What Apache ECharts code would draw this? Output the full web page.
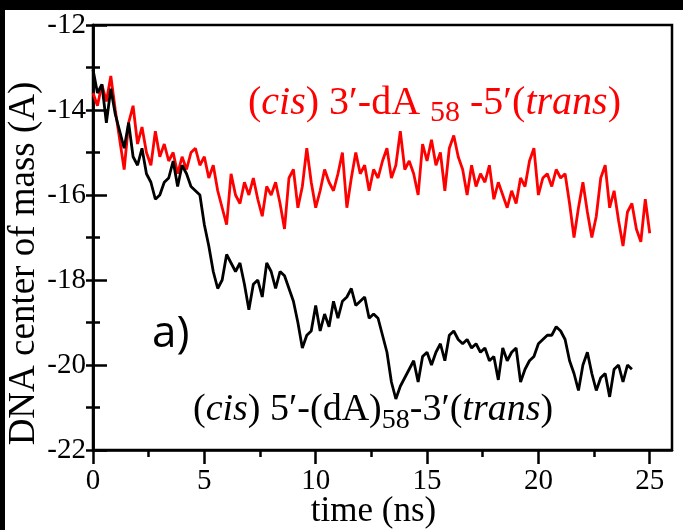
<!DOCTYPE html>
<html>
<head>
<meta charset="utf-8">
<script src="https://cdn.jsdelivr.net/npm/echarts@6/dist/echarts.min.js"></script>
<style>
html,body{margin:0;padding:0;background:#fff;}
#chart{width:683px;height:530px;}
</style>
</head>
<body>
<div id="chart"></div>
<script>
// ---- data ----
const xTicks = [0, 5, 10, 15, 20, 25];
const xMinorTicks = [2.5, 7.5, 12.5, 17.5, 22.5];
const yTicks = [-22, -20, -18, -16, -14, -12];

// (cis) 3'-dA58-5'(trans)  -- red
const redTime = [0,0.2,0.4,0.6,0.8,1.0,1.2,1.4,1.6,1.8,2.0,2.2,2.4,2.6,2.8,3.0,3.2,3.4,3.6,3.8,
  4.0,4.2,4.4,4.6,4.8,5.0,5.2,5.4,5.6,5.8,6.0,6.2,6.4,6.6,6.8,7.0,7.2,7.4,7.6,7.8,
  8.0,8.2,8.4,8.6,8.8,9.0,9.2,9.4,9.6,9.8,10.0,10.2,10.4,10.6,10.8,11.0,11.2,11.4,11.6,11.8,
  12.0,12.2,12.4,12.6,12.8,13.0,13.2,13.4,13.6,13.8,14.0,14.2,14.4,14.6,14.8,15.0,15.2,15.4,15.6,15.8,
  16.0,16.2,16.4,16.6,16.8,17.0,17.2,17.4,17.6,17.8,18.0,18.2,18.4,18.6,18.8,19.0,19.2,19.4,19.6,19.8,
  20.0,20.2,20.4,20.6,20.8,21.0,21.2,21.4,21.6,21.8,22.0,22.2,22.4,22.6,22.8,23.0,23.2,23.4,23.6,23.8,
  24.0,24.2,24.4,24.6,24.8,25.0];
const redValues = [-13.6,-13.9,-13.4,-13.8,-13.2,-14.0,-14.7,-15.4,-14.3,-13.9,-14.8,-14.4,-15.0,-15.3,-14.5,-15.1,-14.8,-15.2,-15.0,-15.5,
  -15.1,-15.4,-15.0,-14.9,-15.3,-15.1,-15.6,-15.3,-15.9,-16.3,-16.7,-15.5,-16.0,-16.2,-15.7,-16.0,-15.6,-16.1,-16.5,-15.8,
  -16.0,-15.7,-16.2,-16.8,-15.6,-15.4,-16.3,-15.8,-14.9,-15.7,-16.3,-15.9,-15.4,-15.7,-15.9,-15.5,-15.0,-16.3,-15.6,-15.0,
  -15.5,-15.3,-15.9,-15.4,-15.6,-15.2,-14.9,-15.6,-15.3,-14.5,-15.4,-15.2,-15.5,-16.0,-14.8,-15.2,-14.7,-15.3,-15.0,-15.9,
  -14.9,-14.6,-15.1,-15.4,-16.0,-15.3,-15.8,-15.5,-15.7,-15.3,-16.1,-15.7,-16.0,-16.3,-15.9,-16.2,-15.6,-15.8,-15.2,-14.9,
  -16.0,-15.6,-15.5,-15.8,-15.4,-15.6,-15.5,-16.2,-17.0,-16.3,-15.7,-16.4,-17.0,-16.5,-15.6,-15.3,-16.3,-15.9,-16.6,-17.2,
  -16.4,-16.2,-16.8,-17.1,-16.1,-16.9];

// (cis) 5'-(dA)58-3'(trans)  -- black
const blackTime = [0,0.2,0.4,0.6,0.8,1.0,1.2,1.4,1.6,1.8,2.0,2.2,2.4,2.6,2.8,3.0,3.2,3.4,3.6,3.8,
  4.0,4.2,4.4,4.6,4.8,5.0,5.2,5.4,5.6,5.8,6.0,6.2,6.4,6.6,6.8,7.0,7.2,7.4,7.6,7.8,
  8.0,8.2,8.4,8.6,8.8,9.0,9.2,9.4,9.6,9.8,10.0,10.2,10.4,10.6,10.8,11.0,11.2,11.4,11.6,11.8,
  12.0,12.2,12.4,12.6,12.8,13.0,13.2,13.4,13.6,13.8,14.0,14.2,14.4,14.6,14.8,15.0,15.2,15.4,15.6,15.8,
  16.0,16.2,16.4,16.6,16.8,17.0,17.2,17.4,17.6,17.8,18.0,18.2,18.4,18.6,18.8,19.0,19.2,19.4,19.6,19.8,
  20.0,20.2,20.4,20.6,20.8,21.0,21.2,21.4,21.6,21.8,22.0,22.2,22.4,22.6,22.8,23.0,23.2,23.4,23.6,23.8,
  24.0,24.2];
const blackValues = [-13.05,-13.6,-13.4,-14.3,-13.5,-14.1,-14.5,-14.9,-14.3,-15.1,-15.3,-14.9,-15.5,-15.7,-16.1,-16.0,-15.7,-15.6,-15.2,-15.8,
  -15.3,-15.5,-15.8,-15.9,-16.0,-16.7,-17.2,-17.8,-18.2,-18.0,-17.4,-17.6,-17.8,-17.6,-18.1,-18.7,-18.1,-18.0,-18.4,-17.6,
  -17.8,-18.2,-17.8,-17.9,-18.2,-18.5,-19.0,-19.6,-19.3,-19.2,-18.6,-19.2,-18.8,-19.1,-18.5,-18.9,-18.5,-18.4,-18.2,-18.6,
  -18.5,-18.4,-18.9,-18.8,-18.9,-19.3,-19.7,-20.4,-20.8,-20.5,-20.3,-20.1,-19.9,-20.4,-19.8,-19.7,-20.0,-19.7,-19.5,-19.9,
  -19.3,-19.2,-19.4,-19.5,-19.4,-19.6,-19.5,-19.7,-19.6,-19.9,-19.8,-20.35,-19.6,-19.9,-19.7,-19.6,-20.4,-20.1,-19.9,-19.8,
  -19.5,-19.4,-19.3,-19.3,-19.1,-19.2,-19.4,-19.9,-20.2,-20.6,-20.0,-19.7,-20.2,-20.6,-20.3,-20.2,-20.75,-20.1,-20.0,-20.4,
  -20.0,-20.1];

// ---- chart ----
const serif = '"Liberation Serif", "Times New Roman", serif';
const pairs = (xs, ys) => xs.map((x, i) => [x, ys[i]]);
const chart = echarts.init(document.getElementById('chart'), null, {renderer: 'canvas'});

function rich(color, size, subSize, lh, subLh) {
  return {
    n: {fontFamily: serif, fontSize: size, lineHeight: lh, verticalAlign: 'middle', fill: color},
    i: {fontFamily: serif, fontSize: size, fontStyle: 'italic', lineHeight: lh, verticalAlign: 'middle', fill: color},
    s: {fontFamily: serif, fontSize: subSize, lineHeight: subLh, verticalAlign: 'bottom', fill: color}
  };
}

chart.setOption({
  animation: false,
  backgroundColor: '#ffffff',
  grid: {left: 93, right: 11, top: 25, bottom: 80, outerBoundsMode: 'none', containLabel: false,
    show: true, borderColor: '#000', borderWidth: 2.5, backgroundColor: 'transparent'},
  xAxis: [
    {
      type: 'value', min: 0, max: 26, interval: 5, position: 'bottom',
      name: 'time (ns)', nameLocation: 'middle', nameGap: 44, nameMoveOverlap: false,
      nameTextStyle: {fontFamily: serif, fontSize: 35, color: '#000', padding: [0, 18, 0, 0]},
      axisLine: {show: true, lineStyle: {color: '#000', width: 2.5}},
      axisTick: {show: true, length: 14, lineStyle: {color: '#000', width: 2.5}, customValues: xTicks},
      axisLabel: {fontFamily: serif, fontSize: 29, color: '#000', margin: 17, customValues: xTicks},
      splitLine: {show: false}
    },
    {
      type: 'value', min: 0, max: 26, position: 'bottom',
      axisLine: {show: false},
      axisTick: {show: true, length: 7, lineStyle: {color: '#000', width: 2.5}, customValues: xMinorTicks},
      axisLabel: {show: false},
      splitLine: {show: false}
    }
  ],
  yAxis: [
    {
      type: 'value', min: -22, max: -12, interval: 2, position: 'left',
      name: 'DNA center of mass (A)', nameLocation: 'middle', nameGap: 50, nameMoveOverlap: false,
      nameTextStyle: {fontFamily: serif, fontSize: 37, color: '#000', padding: [0, 52, 0, 0]},
      axisLine: {show: true, lineStyle: {color: '#000', width: 2.5}},
      axisTick: {show: true, inside: true, length: 14, lineStyle: {color: '#000', width: 2.5}},
      minorTick: {show: true, splitNumber: 2, length: 7, lineStyle: {color: '#000', width: 2.5}},
      axisLabel: {fontFamily: serif, fontSize: 29, color: '#000', margin: 7},
      splitLine: {show: false}
    },
    {
      type: 'value', min: -22, max: -12, interval: 1, position: 'right',
      axisLine: {show: true, lineStyle: {color: '#000', width: 2.5}},
      axisTick: {show: true, inside: true, length: 7, lineStyle: {color: '#000', width: 2.5}},
      axisLabel: {show: false},
      splitLine: {show: false}
    }
  ],
  series: [
    {
      type: 'line', name: 'cis 3-dA58-5 trans', xAxisIndex: 0, yAxisIndex: 0,
      data: pairs(redTime, redValues), showSymbol: false, symbol: 'none',
      lineStyle: {color: '#ff0000', width: 2.8}, itemStyle: {color: '#ff0000'}, z: 2
    },
    {
      type: 'line', name: 'cis 5-(dA)58-3 trans', xAxisIndex: 0, yAxisIndex: 0,
      data: pairs(blackTime, blackValues), showSymbol: false, symbol: 'none',
      lineStyle: {color: '#000000', width: 2.8}, itemStyle: {color: '#000000'}, z: 3
    }
  ],
  graphic: [
    {type: 'rect', left: 0, top: 0, shape: {width: 683, height: 10}, style: {fill: '#000'}, z: 100},
    {type: 'rect', left: 0, top: 0, shape: {width: 5, height: 530}, style: {fill: '#000'}, z: 100},
    {type: 'text', x: 248, y: 103, z: 50, style: {
      text: '{n|(}{i|cis}{n|) 3′-dA }{s|58}{n| -5′(}{i|trans}{n|)}',
      rich: rich('#ff0000', 40, 30, 50, 36), verticalAlign: 'middle', align: 'left'}},
    {type: 'text', x: 193, y: 410, z: 50, style: {
      text: '{n|(}{i|cis}{n|) 5′-(dA)}{s|58}{n|-3′(}{i|trans}{n|)}',
      rich: rich('#000000', 38, 28, 50, 34), verticalAlign: 'middle', align: 'left'}},
    {type: 'text', x: 152, y: 334, z: 50, style: {
      text: 'a)', fontFamily: '"Open Sans", sans-serif', fontSize: 44, fill: '#000',
      verticalAlign: 'middle', align: 'left'}}
  ]
});
</script>
</body>
</html>
